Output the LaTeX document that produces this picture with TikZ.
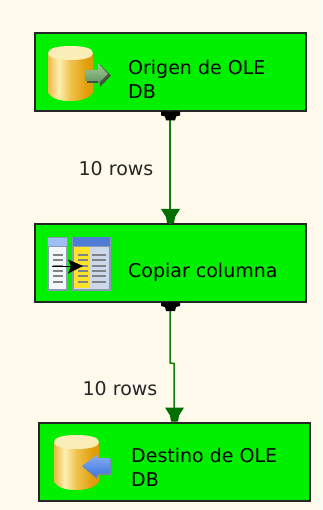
\documentclass[tikz,border=0pt]{standalone}
\usepackage{fontspec}
\setmainfont{DejaVu Sans}
\usetikzlibrary{calc}
\definecolor{bgc}{HTML}{FFFAEB}
\definecolor{boxg}{HTML}{00F000}
\definecolor{linkg}{HTML}{0F7F0F}
\definecolor{tipg}{HTML}{006F00}
\definecolor{tblborder}{HTML}{8A9AB0}
\definecolor{hdrl}{HTML}{A0BCF5}
\definecolor{hdrr}{HTML}{4E7CD6}
\definecolor{bodyr}{HTML}{CDD8EA}
\definecolor{bodyl}{HTML}{F4F6FA}
\definecolor{yelcol}{HTML}{FFE22A}
\definecolor{rowgray}{HTML}{7E8488}
\definecolor{greenhi}{HTML}{A6CC96}
\definecolor{greenlo}{HTML}{5E9460}
\definecolor{greensh}{HTML}{3F5540}
\definecolor{bluehi}{HTML}{84AEF2}
\definecolor{bluelo}{HTML}{3F74DC}
\definecolor{bluesh}{HTML}{7088A8}
\definecolor{cyltop}{HTML}{FBEDB8}
\pgfdeclarehorizontalshading{goldcyl}{100bp}{
 rgb(0bp)=(0.85,0.61,0.12);rgb(26bp)=(0.94,0.74,0.30);rgb(37bp)=(0.99,0.94,0.70);rgb(50bp)=(0.94,0.76,0.30);rgb(68bp)=(0.88,0.62,0.03);rgb(100bp)=(0.80,0.56,0.06)}
\tikzset{
 x=1pt,y=-1pt,
 taskbox/.style={draw=black!85,line width=2pt,fill=boxg,minimum width=271pt,minimum height=78pt,inner sep=0pt,outer sep=0pt},
 tasklabel/.style={anchor=west,align=left,font=\fontsize{19}{24}\selectfont,text=black,inner sep=0pt},
 rowlabel/.style={anchor=center,font=\fontsize{19}{23}\selectfont,text=black!85,inner sep=0pt},
 linkline/.style={draw=linkg,line width=1.5pt},
 porttop/.style={fill=black},
 porthead/.style={fill=tipg},
 cylbody/.style={shading=goldcyl,draw=none},
}
\newcommand{\cylicon}[2]{% left x, top y
 \begin{scope}[shift={(#1,#2)}]
  \path[cylbody] (0,8) -- (0,47) .. controls (4,52) and (10,55) .. (22,55)
     .. controls (34,55) and (41,52) .. (45,47) -- (45,8) -- cycle;
  \path[fill=cyltop] (0,7) .. controls (0,2) and (10,0) .. (22.5,0)
     .. controls (35,0) and (45,2) .. (45,7) .. controls (45,12) and (35,14) .. (22.5,14)
     .. controls (10,14) and (0,12) .. (0,7) -- cycle;
 \end{scope}}
\begin{document}
\begin{tikzpicture}
\useasboundingbox (0,0) rectangle (322,510);
\fill[bgc] (0,0) rectangle (322,510);

\node[taskbox] (src) at (170,72.5) {};
\node[taskbox] (cpy) at (170,263) {};
\node[taskbox] (dst) at (174,461.5) {};

\coordinate (jogA) at ($(cpy.south)+(0,61)$);
\coordinate (jogB) at ($(dst.north)+(0,-59)$);

\draw[linkline] (src.south) -- (cpy.north);
\draw[linkline] (cpy.south) -- (jogA) -- (jogB) -- (dst.north);

% output ports
\foreach \b in {src,cpy}{
 \fill[porttop] ($(\b.south)+(-9,0)$) -- ($(\b.south)+(10,0)$) -- ($(\b.south)+(10,4)$) -- ($(\b.south)+(6,5)$) -- ($(\b.south)+(5,9)$) -- ($(\b.south)+(-4,9)$) -- ($(\b.south)+(-5,5)$) -- ($(\b.south)+(-9,4)$) -- cycle;
}
% input arrowheads
\foreach \b in {cpy,dst}{
 \fill[porthead] ($(\b.north)+(-9,-15)$) -- ($(\b.north)+(10,-15)$) -- ($(\b.north)+(5,-7)$) -- ($(\b.north)+(4,-1)$) -- ($(\b.north)+(-3,-1)$) -- ($(\b.north)+(-4,-7)$) -- cycle;
}

% source icon
\cylicon{48}{46}
\fill[greensh] (87,72) -- (100,72) -- (100,65) -- (111,75.5) -- (100,87) -- (100,83) -- (87,83) -- cycle;
\shade[top color=greenhi,bottom color=greenlo] (85,70) -- (98,70) -- (98,63.5) -- (108,74) -- (98,84) -- (98,81) -- (85,81) -- cycle;

% copy icon
\fill[tblborder] (47,237) rectangle (68,291);
\fill[tblborder] (72,237) rectangle (111,291);
\fill[hdrl] (48,238) rectangle (67,246);
\fill[hdrr] (73,237) rectangle (110,246);
\fill[bodyl] (49,247) rectangle (66,289);
\fill[bodyr] (74,247) rectangle (109,289);
\fill[yelcol] (74,247) rectangle (90,288);
\foreach \yy in {255,260,266,271,276,282}{
 \draw[rowgray,line width=1.2pt] (53,\yy) -- (63,\yy);
 \draw[rowgray,line width=1.2pt] (78,\yy) -- (88,\yy);
 \draw[rowgray,line width=1.2pt] (92,\yy) -- (106,\yy);
}
\draw[black,line width=1pt] (52,266) -- (72,266);
\fill[black] (68,259.5) -- (83,266) -- (68,273.5) -- (71,266) -- cycle;

% dest icon
\cylicon{54}{435}
\fill[bluesh] (83,467) -- (97,456) -- (97,459) -- (111,459) -- (111,475) -- (97,475) -- (97,479) -- cycle;
\shade[top color=bluehi,bottom color=bluelo] (82,466) -- (97,455) -- (97,458) -- (110,458) -- (110,473) -- (97,473) -- (97,477) -- cycle;

% labels
\node[tasklabel] (srct) at (128,79) {Origen de OLE\\DB};
\node[tasklabel] (cpyt) at (128,272) {Copiar columna};
\node[tasklabel] (dstt) at (131,467) {Destino de OLE\\DB};
\node[rowlabel] (r1) at (116,169) {10 rows};
\node[rowlabel] (r2) at (120,389) {10 rows};
\end{tikzpicture}
\end{document}
